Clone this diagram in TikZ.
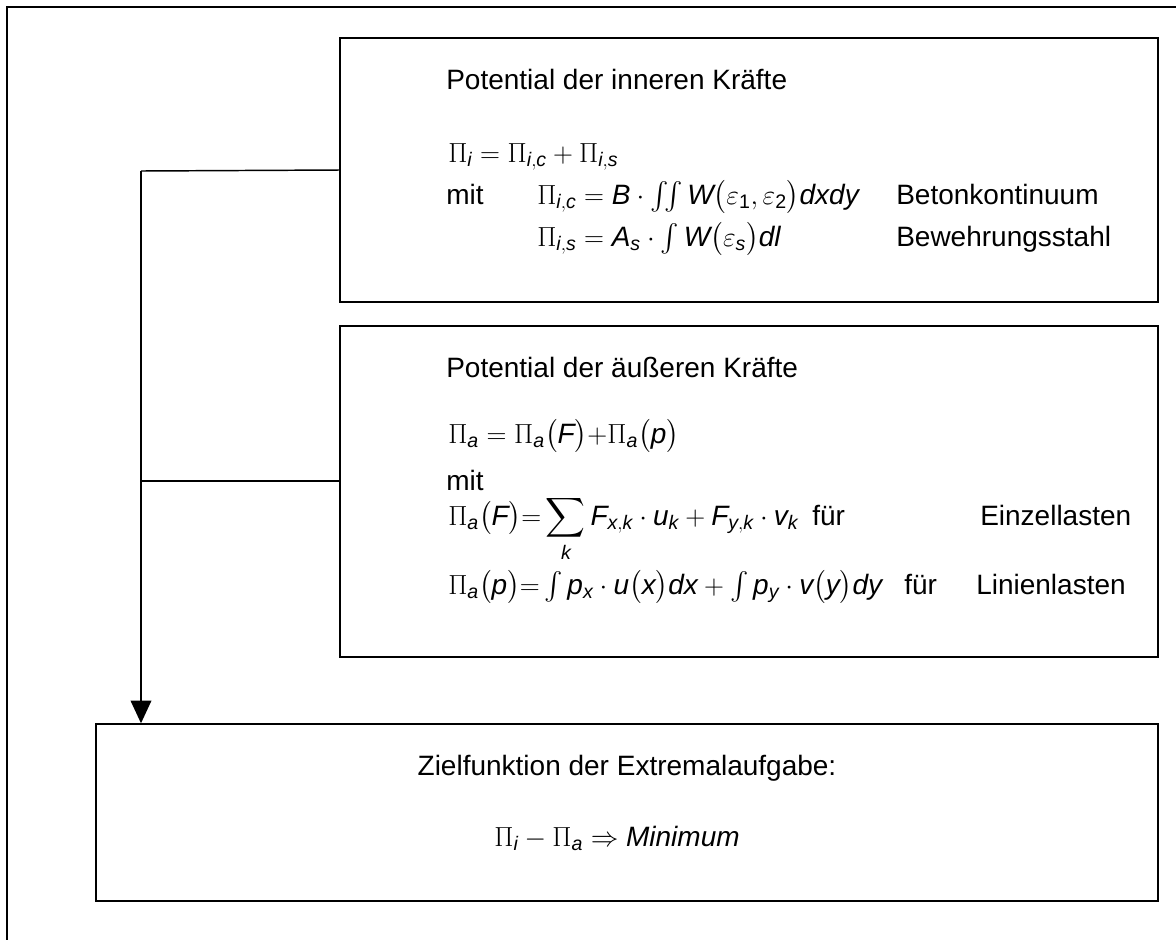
\documentclass[tikz,border=0pt]{standalone}
\usepackage{amsmath}
\usepackage{fontspec}
\setmainfont{Liberation Sans}
\usetikzlibrary{positioning,arrows.meta,fit}
\newcommand{\fs}{\fontsize{21}{25}\selectfont}
\newcommand{\mv}[1]{\mathit{#1}}
\tikzset{
  frm/.style={draw=black, line width=1.5pt},
  blk/.style={rectangle, draw=black, line width=1.1pt, inner sep=0pt},
  txt/.style={anchor=base west, inner sep=0pt, font=\fs},
  ctxt/.style={anchor=base, inner sep=0pt, font=\fs},
  flowarr/.style={-{Triangle[length=17pt,width=15.5pt]}, line width=1.1pt},
}

\begin{document}
\begin{tikzpicture}[x=0.75pt, y=-0.75pt]
\useasboundingbox (0,0) rectangle (1176,940);
% outer frame, only top and left edge visible
\draw[frm] (1176,7) -- (7,7) -- (7,940);
% boxes
\node[blk, fit={(340,38) (1158,302)}] (inner) {};
\node[blk, fit={(340,326) (1158,657)}] (outer) {};
\node[blk, fit={(96,724) (1158,901)}] (ziel) {};
% inner forces
\node[txt] (t1) at (446,89) {Potential der inneren Kräfte};
\node[txt] (f1) at (448,162) {$\Pi_{\mv{i}} = \Pi_{\mv{i,c}} + \Pi_{\mv{i,s}}$};
\node[txt] (m1) at (446,204) {mit};
\node[txt] (f2) at (537,204) {$\Pi_{\mv{i,c}} = \mv{B}\cdot\iint \mv{W}\bigl(\varepsilon_{\mathrm{1}},\varepsilon_{\mathrm{2}}\bigr)\mv{dxdy}$};
\node[txt] (l1) at (896,204) {Betonkontinuum};
\node[txt] (f3) at (537,246) {$\Pi_{\mv{i,s}} = \mv{A}_{\mv{s}}\cdot\int \mv{W}\bigl(\varepsilon_{\mv{s}}\bigr)\mv{dl}$};
\node[txt] (l2) at (896,246) {Bewehrungsstahl};
% outer forces
\node[txt] (t2) at (446,377) {Potential der äußeren Kräfte};
\node[txt] (f4) at (448,443) {$\Pi_{\mv{a}} = \Pi_{\mv{a}}\bigl(\mv{F}\bigr){+}\Pi_{\mv{a}}\bigl(\mv{p}\bigr)$};
\node[txt] (m2) at (446,490) {mit};
\node[txt] (f5) at (448,525) {$\Pi_{\mv{a}}\bigl(\mv{F}\bigr){=}\displaystyle\sum_{\mv{k}} \mv{F}_{\mv{x,k}}\cdot\mv{u}_{\mv{k}} + \mv{F}_{\mv{y,k}}\cdot\mv{v}_{\mv{k}}$};
\node[txt] (u1) at (812,525) {für};
\node[txt] (l3) at (980,525) {Einzellasten};
\node[txt] (f6) at (448,594) {$\Pi_{\mv{a}}\bigl(\mv{p}\bigr){=}\int \mv{p}_{\mv{x}}\cdot\mv{u}\bigl(\mv{x}\bigr)\mv{dx} + \int \mv{p}_{\mv{y}}\cdot\mv{v}\bigl(\mv{y}\bigr)\mv{dy}$};
\node[txt] (u2) at (904,594) {für};
\node[txt] (l4) at (976,594) {Linienlasten};
% objective
\node[ctxt] (t3) at (627,775) {Zielfunktion der Extremalaufgabe:};
\node[ctxt] (f7) at (617,846) {$\Pi_{\mv{i}} - \Pi_{\mv{a}} \Rightarrow \mv{Minimum}$};
% connectors
\coordinate (bus) at (141,171);
\coordinate (tap) at (141,481);
\draw[line width=1.1pt] (inner.west) -- (bus);
\draw[line width=1.1pt] (tap) -- (tap -| outer.west);
\draw[flowarr] (bus) -- (bus |- ziel.north);
\end{tikzpicture}
\end{document}
